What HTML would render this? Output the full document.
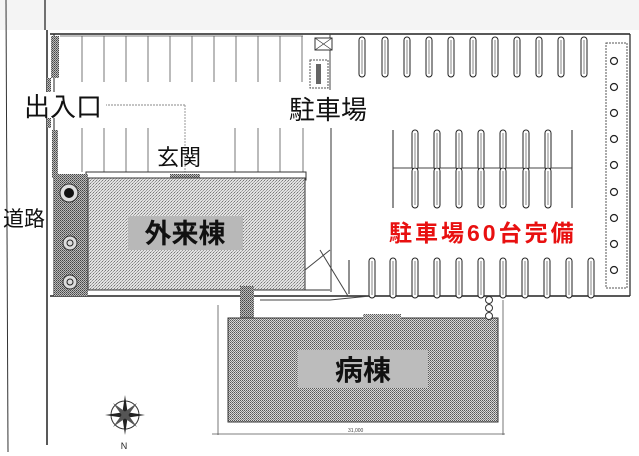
<!DOCTYPE html>
<html><head><meta charset="utf-8"><style>
html,body{margin:0;padding:0;background:#fff;}
svg{display:block;}
text{font-family:"Liberation Sans","Noto Sans CJK JP",sans-serif;}
</style></head><body>
<svg width="639" height="456" viewBox="0 0 639 456" xmlns="http://www.w3.org/2000/svg">
<defs>
<pattern id="lt" width="3" height="3" patternUnits="userSpaceOnUse">
<rect width="3" height="3" fill="#e2e2e2"/><rect x="0" y="0" width="1" height="1" fill="#777"/><rect x="2" y="1" width="1" height="1" fill="#999"/><rect x="1" y="2" width="1" height="1" fill="#aaa"/>
</pattern>
<pattern id="dk" width="2" height="2" patternUnits="userSpaceOnUse">
<rect width="2" height="2" fill="#d8d8d8"/><rect x="0" y="0" width="1" height="1" fill="#555"/><rect x="1" y="1" width="1" height="1" fill="#7a7a7a"/>
</pattern>
<pattern id="xx" width="2" height="2" patternUnits="userSpaceOnUse">
<rect width="2" height="2" fill="#bbb"/><rect x="0" y="0" width="1" height="1" fill="#444"/><rect x="1" y="1" width="1" height="1" fill="#666"/>
</pattern>
<g id="isl"><rect x="-3" y="0" width="6" height="40" rx="3" fill="#fff" stroke="#222" stroke-width="1"/><line x1="0" y1="3" x2="0" y2="37" stroke="#666" stroke-width="0.8"/></g>
</defs>
<rect width="639" height="456" fill="#fff"/>
<rect x="0" y="0" width="639" height="30" fill="#f4f4f4"/>
<line x1="6" y1="0" x2="8" y2="452" stroke="#333" stroke-width="1"/>
<line x1="45" y1="0" x2="45" y2="30" stroke="#444" stroke-width="1.5"/>
<line x1="47" y1="30" x2="47" y2="445" stroke="#222" stroke-width="1.5"/>
<line x1="50" y1="34" x2="630" y2="34" stroke="#222" stroke-width="1.5"/>
<line x1="630" y1="34" x2="630" y2="296" stroke="#222" stroke-width="1.2"/>
<line x1="50" y1="296" x2="630" y2="296" stroke="#222" stroke-width="1.5"/>
<line x1="54" y1="34" x2="54" y2="296" stroke="#222" stroke-width="1"/>
<rect x="51" y="36" width="8" height="42" fill="url(#xx)"/>
<rect x="47" y="78" width="4" height="50" fill="url(#xx)"/>
<g stroke="#555" stroke-width="0.8">
<line x1="60" y1="36" x2="303" y2="36"/>
<line x1="82" y1="36" x2="82" y2="82"/><line x1="104" y1="36" x2="104" y2="82"/><line x1="126" y1="36" x2="126" y2="82"/><line x1="148" y1="36" x2="148" y2="82"/><line x1="170" y1="36" x2="170" y2="82"/><line x1="192" y1="36" x2="192" y2="82"/><line x1="214" y1="36" x2="214" y2="82"/><line x1="236" y1="36" x2="236" y2="82"/><line x1="258" y1="36" x2="258" y2="82"/><line x1="280" y1="36" x2="280" y2="82"/><line x1="302" y1="36" x2="302" y2="82"/>
<line x1="82" y1="128" x2="82" y2="172"/><line x1="104" y1="128" x2="104" y2="172"/><line x1="126" y1="128" x2="126" y2="172"/><line x1="148" y1="128" x2="148" y2="172"/>
<line x1="235" y1="128" x2="235" y2="172"/><line x1="258" y1="128" x2="258" y2="172"/><line x1="280" y1="128" x2="280" y2="172"/><line x1="303" y1="128" x2="303" y2="172"/>
</g>
<line x1="60" y1="105" x2="185" y2="105" stroke="#888" stroke-width="1" stroke-dasharray="2,1"/>
<line x1="185" y1="105" x2="185" y2="172" stroke="#999" stroke-width="1" stroke-dasharray="2,1"/>
<rect x="52" y="130" width="6" height="48" fill="url(#xx)"/>
<line x1="330" y1="34" x2="330" y2="90" stroke="#444" stroke-width="1"/>
<line x1="331" y1="128" x2="331" y2="292" stroke="#333" stroke-width="1"/>
<rect x="315" y="38" width="17" height="12" fill="#fff" stroke="#333"/>
<line x1="315" y1="38" x2="332" y2="50" stroke="#333" stroke-width="0.7"/><line x1="332" y1="38" x2="315" y2="50" stroke="#333" stroke-width="0.7"/>
<rect x="310" y="60" width="18" height="28" fill="#fff" stroke="#555" stroke-dasharray="2,1"/>
<rect x="316" y="64" width="5" height="20" fill="#666"/>
<rect x="86" y="172" width="220" height="8" fill="#fff" stroke="#333"/>
<rect x="170" y="174" width="30" height="6" fill="url(#xx)"/>
<rect x="54" y="174" width="34" height="122" fill="url(#xx)"/>
<rect x="88" y="178" width="217" height="112" fill="url(#lt)" stroke="#333"/>
<circle cx="69" cy="193" r="9" fill="#ddd" stroke="#333"/><circle cx="69" cy="193" r="5" fill="#111"/>
<circle cx="70" cy="243" r="7" fill="#ddd" stroke="#333"/><circle cx="70" cy="243" r="3" fill="none" stroke="#222"/>
<circle cx="70" cy="282" r="7" fill="#ddd" stroke="#333"/><circle cx="70" cy="282" r="3" fill="none" stroke="#222"/>
<rect x="128" y="216" width="115" height="34" fill="#b8b8b8"/>
<text x="185" y="243" font-size="27" font-weight="bold" text-anchor="middle" fill="#111">外来棟</text>
<line x1="88" y1="290" x2="330" y2="290" stroke="#333"/>
<line x1="305" y1="270" x2="330" y2="250" stroke="#444"/>
<line x1="320" y1="250" x2="348" y2="296" stroke="#444"/>
<line x1="260" y1="300" x2="330" y2="300" stroke="#444"/>
<line x1="330" y1="300" x2="370" y2="296" stroke="#444"/>
<rect x="240" y="286" width="14" height="35" fill="url(#xx)"/>
<path d="M228 318 H498 V422 H228 Z" fill="url(#dk)" stroke="#333"/>
<rect x="363" y="314" width="38" height="6" fill="url(#dk)"/>
<rect x="298" y="350" width="130" height="38" fill="#bcbcbc"/>
<text x="363" y="380" font-size="28" font-weight="bold" text-anchor="middle" fill="#111">病棟</text>
<line x1="218" y1="305" x2="218" y2="435" stroke="#555" stroke-width="0.8"/>
<line x1="212" y1="434" x2="505" y2="434" stroke="#555" stroke-width="0.8"/>
<line x1="503" y1="300" x2="503" y2="435" stroke="#555" stroke-width="0.8"/>
<circle cx="489" cy="300" r="3.5" fill="#fff" stroke="#333"/><circle cx="489" cy="308" r="3.5" fill="#fff" stroke="#333"/><circle cx="489" cy="316" r="3.5" fill="#fff" stroke="#333"/>
<text x="348" y="432" font-size="5" fill="#444">31,000</text>
<g>
<use href="#isl" x="362" y="37"/><use href="#isl" x="385" y="37"/><use href="#isl" x="407" y="37"/><use href="#isl" x="429" y="37"/><use href="#isl" x="451" y="37"/><use href="#isl" x="473" y="37"/><use href="#isl" x="495" y="37"/><use href="#isl" x="517" y="37"/><use href="#isl" x="539" y="37"/><use href="#isl" x="561" y="37"/><use href="#isl" x="584" y="37"/>
</g>
<line x1="393" y1="130" x2="393" y2="208" stroke="#222"/>
<line x1="572" y1="130" x2="572" y2="208" stroke="#222"/>
<line x1="393" y1="168" x2="572" y2="168" stroke="#444"/>
<g>
<use href="#isl" x="415" y="130"/><use href="#isl" x="437" y="130"/><use href="#isl" x="459" y="130"/><use href="#isl" x="481" y="130"/><use href="#isl" x="503" y="130"/><use href="#isl" x="526" y="130"/><use href="#isl" x="548" y="130"/>
<use href="#isl" x="415" y="168"/><use href="#isl" x="437" y="168"/><use href="#isl" x="459" y="168"/><use href="#isl" x="481" y="168"/><use href="#isl" x="503" y="168"/><use href="#isl" x="526" y="168"/><use href="#isl" x="548" y="168"/>
</g>
<line x1="349" y1="260" x2="349" y2="294" stroke="#222"/>
<g>
<use href="#isl" x="372" y="258"/><use href="#isl" x="393" y="258"/><use href="#isl" x="415" y="258"/><use href="#isl" x="437" y="258"/><use href="#isl" x="459" y="258"/><use href="#isl" x="481" y="258"/><use href="#isl" x="503" y="258"/><use href="#isl" x="525" y="258"/><use href="#isl" x="547" y="258"/><use href="#isl" x="569" y="258"/><use href="#isl" x="591" y="258"/>
</g>
<rect x="606" y="43" width="21" height="245" fill="#fff" stroke="#555" stroke-dasharray="2,1"/>
<g fill="#fff" stroke="#222" stroke-width="1.2">
<circle cx="614" cy="61" r="3.5"/><circle cx="614" cy="87" r="3.5"/><circle cx="614" cy="113" r="3.5"/><circle cx="614" cy="139" r="3.5"/><circle cx="614" cy="165" r="3.5"/><circle cx="614" cy="192" r="3.5"/><circle cx="614" cy="218" r="3.5"/><circle cx="614" cy="244" r="3.5"/><circle cx="614" cy="270" r="3.5"/>
</g>
<g transform="translate(125,415)" fill="#222">
<circle r="14" fill="none" stroke="#333"/>
<polygon points="0,-20 3,0 0,20 -3,0"/><polygon points="-20,0 0,3 20,0 0,-3"/>
<polygon points="-12,-12 2,-2 12,12 -2,2" fill="#555"/><polygon points="12,-12 2,2 -12,12 -2,-2" fill="#555"/>
</g>
<text x="124" y="449" font-size="9" text-anchor="middle" fill="#222">N</text>
<rect x="22" y="92" width="84" height="26" fill="#fff"/>
<text x="24" y="116" font-size="26" fill="#111">出入口</text>
<text x="3" y="226" font-size="21" fill="#111">道路</text>
<text x="157" y="165" font-size="22" fill="#111">玄関</text>
<text x="289" y="119" font-size="26" fill="#111">駐車場</text>
<text x="389" y="241" font-size="23" font-weight="bold" letter-spacing="3" fill="#e81010">駐車場60台完備</text>
</svg>
</body></html>
